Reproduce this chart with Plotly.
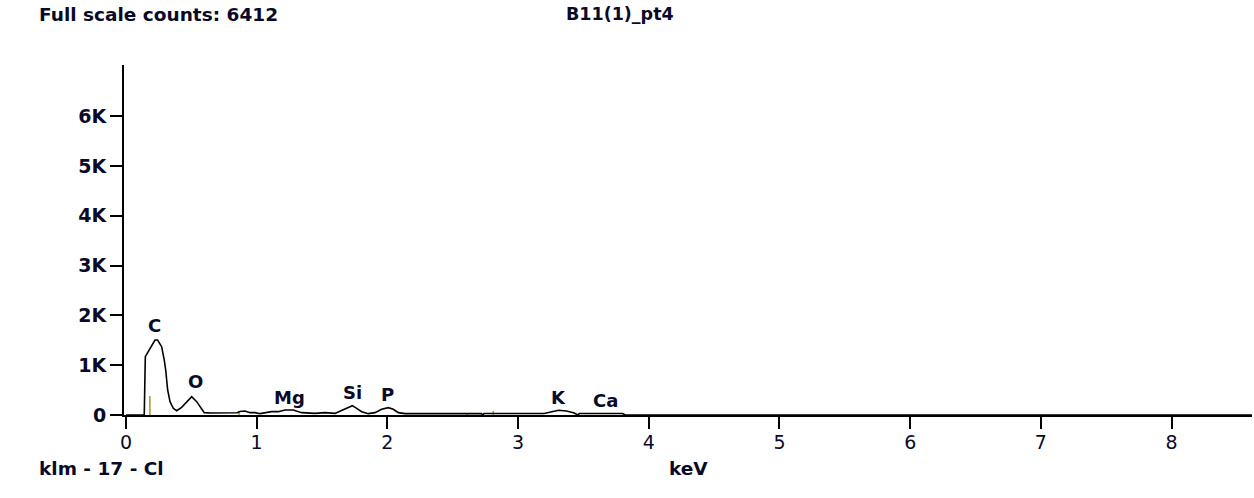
import plotly.graph_objects as go

# spectrum (keV, counts)
energy_kev = [0.0, 0.14, 0.148, 0.171, 0.196, 0.222, 0.242, 0.273, 0.293, 0.304, 0.319, 0.337,
              0.362, 0.388, 0.426, 0.464, 0.503, 0.541, 0.574, 0.599, 0.65, 0.75, 0.85, 0.872,
              0.91, 0.949, 0.987, 1.025, 1.064, 1.115, 1.165, 1.217, 1.28, 1.344, 1.446, 1.523,
              1.599, 1.65, 1.701, 1.732, 1.765, 1.803, 1.854, 1.905, 1.956, 2.007, 2.045, 2.084,
              2.135, 2.3, 2.5, 2.72, 2.73, 2.74, 3.0, 3.2, 3.25, 3.31, 3.37, 3.43, 3.455, 3.47,
              3.6, 3.8, 3.82, 4.0, 4.01, 4.02, 4.38, 4.39, 4.40, 8.62]
counts = [0, 0, 1171, 1272, 1406, 1506, 1506, 1372, 1104, 904, 502, 268,
          134, 87, 154, 268, 368, 268, 154, 47, 40, 40, 45, 70,
          80, 47, 47, 27, 47, 67, 67, 100, 100, 47, 33, 47,
          33, 94, 147, 187, 134, 67, 27, 47, 114, 147, 114, 47,
          27, 30, 30, 30, 0, 30, 30, 30, 60, 94, 80, 40, 0, 30,
          30, 30, 0, 0, 15, 0, 0, 15, 0, 0]

# element markers (olive KLM lines)
klm_energy = [0.183, 0.865, 2.61, 2.81]
klm_height = [380, 80, 40, 80]

# element labels
element_names = ["C", "O", "Mg", "Si", "P", "K", "Ca"]
element_x = [0.22, 0.53, 1.25, 1.73, 2.0, 3.31, 3.67]
element_y = [1790, 680, 360, 460, 420, 360, 300]

y_tick_vals = [0, 1000, 2000, 3000, 4000, 5000, 6000]
y_tick_text = ["0", "1K", "2K", "3K", "4K", "5K", "6K"]
x_tick_vals = [0, 1, 2, 3, 4, 5, 6, 7, 8]

FONT = "Verdana, DejaVu Sans"
TXT = "#0a0a28"
FS = 19

fig = go.Figure()

kx, ky = [], []
for e, h in zip(klm_energy, klm_height):
    kx += [e, e, None]
    ky += [0, h, None]
fig.add_trace(go.Scatter(x=kx, y=ky, mode="lines", line=dict(color="#9c9c28", width=1.5),
                         hoverinfo="skip", showlegend=False))

fig.add_trace(go.Scatter(x=energy_kev, y=counts, mode="lines",
                         line=dict(color="black", width=1.6), showlegend=False))

for n, x, y in zip(element_names, element_x, element_y):
    fig.add_annotation(x=x, y=y, text="<b>%s</b>" % n, showarrow=False,
                       font=dict(family=FONT, size=18, color=TXT))

W, H = 1254, 498
L, R, T, B = 124, 2, 65, 83
pw, ph = W - L - R, H - T - B

def px(x):
    return (x - L) / pw

def py(y):
    return (H - B - y) / ph

for text, x, y, s in [("Full scale counts: 6412", 37, 14, 18.5), ("B11(1)_pt4", 564, 14, 17.5),
                      ("klm - 17 - Cl", 37, 468, 18.5), ("keV", 667, 468, 18.5)]:
    fig.add_annotation(xref="paper", yref="paper", x=px(x), y=py(y), xanchor="left",
                       yanchor="middle", text="<b>%s</b>" % text, showarrow=False,
                       font=dict(family=FONT, size=s, color=TXT))

fig.update_layout(
    width=W, height=H, margin=dict(l=L, r=R, t=T, b=B),
    paper_bgcolor="white", plot_bgcolor="white",
    xaxis=dict(range=[-0.015, 8.615], tickvals=x_tick_vals, ticks="outside", ticklen=12,
               tickwidth=2, tickcolor="black", showline=True, linecolor="black", linewidth=2,
               showgrid=False, zeroline=False, ticklabelstandoff=-3,
               tickfont=dict(family=FONT, size=FS, color=TXT), tickprefix="<b>", ticksuffix="</b>"),
    yaxis=dict(range=[0, 7028], tickvals=y_tick_vals, ticktext=["<b>%s</b>" % t for t in y_tick_text],
               ticks="outside", ticklen=12, tickwidth=2, tickcolor="black", showline=True,
               linecolor="black", linewidth=2, showgrid=False, zeroline=False,
               tickfont=dict(family=FONT, size=FS, color=TXT)),
)

fig.write_html("out.html", config={"displayModeBar": False},
               post_script="document.body.style.margin='0px';")
